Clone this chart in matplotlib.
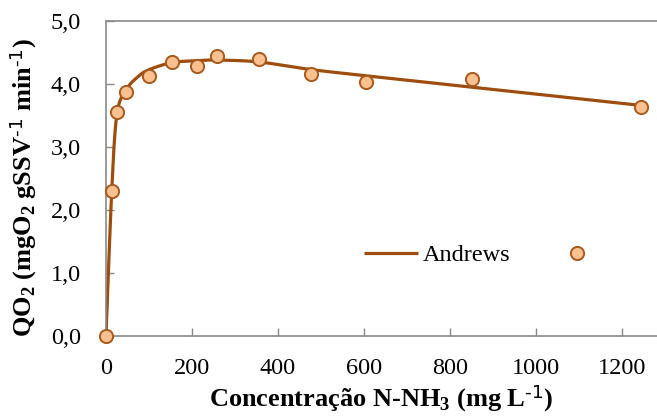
import numpy as np
import matplotlib
matplotlib.use("Agg")
import matplotlib.pyplot as plt

# measured points
conc = [0, 13, 25, 46, 101, 154, 212, 259, 355, 476, 605, 850, 1244]
qo2 = [0.0, 2.30, 3.55, 3.87, 4.12, 4.35, 4.29, 4.45, 4.40, 4.16, 4.03, 4.08, 3.64]

# Andrews curve at these concentrations
fit_conc = [0, 13, 25, 46, 75, 101, 154, 212, 259, 355, 476, 605, 850, 1244]
fit_qo2 = [0.0, 2.25, 3.50, 3.90, 4.12, 4.23, 4.34, 4.37, 4.38, 4.35, 4.23, 4.13, 3.95, 3.66]

LINE = '#9E4D0E'
FACE = '#FAC090'
EDGE = '#A65A1C'
GRID = '#898989'
FS = 17.5
LFS = 19

plt.rcParams['font.family'] = ['Liberation Serif', 'DejaVu Serif']
plt.rcParams['mathtext.default'] = 'regular'


def smooth(xs, ys, n=30):
    # Catmull-Rom style smoothing, like a spreadsheet's smoothed line
    xs = np.asarray(xs, float)
    ys = np.asarray(ys, float)
    px = np.concatenate([[2 * xs[0] - xs[1]], xs, [2 * xs[-1] - xs[-2]]])
    py = np.concatenate([[2 * ys[0] - ys[1]], ys, [2 * ys[-1] - ys[-2]]])
    out_x, out_y = [], []
    t = np.linspace(0, 1, n)
    for i in range(1, len(px) - 2):
        for p, out in ((px, out_x), (py, out_y)):
            p0, p1, p2, p3 = p[i - 1], p[i], p[i + 1], p[i + 2]
            c1 = p1 + (p2 - p0) / 6.0
            c2 = p2 - (p3 - p1) / 6.0
            out.extend((1 - t) ** 3 * p1 + 3 * (1 - t) ** 2 * t * c1
                       + 3 * (1 - t) * t ** 2 * c2 + t ** 3 * p2)
    return out_x, out_y


fig = plt.figure(figsize=(6.57, 4.18), dpi=100)
ax = fig.add_axes([106 / 657, 1 - 336 / 418, 550.5 / 657, 315 / 418])

sx, sy = smooth(fit_conc, fit_qo2)
ax.plot(sx, sy, color=LINE, lw=2.3, label='Andrews', zorder=2, solid_capstyle='butt')
ax.plot(conc, qo2, ls='none', marker='o', ms=9.5, mfc=FACE, mec=EDGE, mew=1.4,
        label=' ', zorder=3, clip_on=False)

ax.set_xlim(0, 1280)
ax.set_ylim(0, 5)
ax.set_xticks(range(0, 1201, 200))
yt = np.arange(0, 5.01, 1)
ax.set_yticks(yt)
ax.set_yticklabels([('%.1f' % v).replace('.', ',') for v in yt])

for side in ['left', 'bottom', 'top']:
    ax.spines[side].set_color(GRID)
    ax.spines[side].set_linewidth(1.2)
ax.spines['right'].set_visible(False)
ax.tick_params(axis='both', direction='in', length=5.5, width=1, color=GRID,
               labelsize=FS, labelcolor='black')
ax.tick_params(axis='x', pad=16)
ax.tick_params(axis='y', pad=18)

ax.set_xlabel(r'Concentração N-NH$_3$ (mg L$^{\text{-1}}$)', fontsize=LFS, fontweight='bold')
ax.set_ylabel(r'QO$_2$ (mgO$_2$ gSSV$^{\text{-1}}$ min$^{\text{-1}}$)', fontsize=LFS,
              fontweight='bold')
ax.xaxis.set_label_coords(0.5, -0.147)
ax.yaxis.set_label_coords(-0.121, 0.47)

ax.legend(loc='center left', bbox_to_anchor=(0.4687, 0.257), ncols=2, frameon=False,
          fontsize=FS, handlelength=2.22, handletextpad=0.2, columnspacing=1.62,
          borderpad=0, borderaxespad=0)

fig.savefig('out.png', dpi=100)
